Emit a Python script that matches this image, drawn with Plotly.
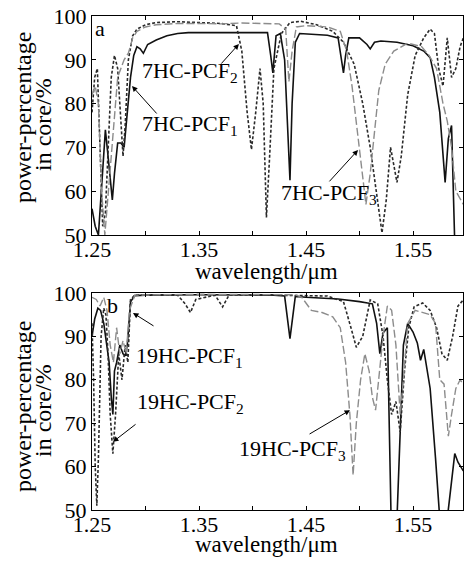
import plotly.graph_objects as go

# ---------------- data: panel a (7HC-PCF) ----------------
wl_a1 = [1.250, 1.253, 1.256, 1.258, 1.260, 1.2625, 1.265, 1.267, 1.269, 1.271, 1.274, 1.277, 1.280,
         1.283, 1.286, 1.289, 1.292, 1.295, 1.298, 1.302, 1.310, 1.320, 1.330, 1.340, 1.380, 1.414,
         1.417, 1.419, 1.422, 1.426, 1.430, 1.433, 1.435, 1.437, 1.440, 1.444, 1.455, 1.470, 1.480,
         1.483, 1.485, 1.487, 1.490, 1.500, 1.507, 1.510, 1.514, 1.520, 1.535, 1.550, 1.560, 1.566,
         1.570, 1.575, 1.580, 1.583, 1.586, 1.589, 1.597]
pp_a1 = [56, 52, 50, 58, 66, 74, 68, 62, 58, 64, 71, 71, 70,
         78, 86, 91, 93, 92.5, 91.5, 93.5, 94.5, 95.5, 96, 96.2, 96.2, 96.2,
         91, 87, 95.5, 96, 90, 75, 62.5, 80, 94, 96, 95.8, 95.6, 95,
         90, 87, 91, 95, 95, 93.5, 92.5, 94, 94.3, 94, 93.2, 92, 90.5,
         86, 78, 62, 72, 75, 48, 48]

wl_a2 = [1.250, 1.2525, 1.255, 1.2575, 1.260, 1.2625, 1.265, 1.268, 1.271, 1.274, 1.277, 1.279, 1.281,
         1.284, 1.288, 1.292, 1.296, 1.300, 1.310, 1.330, 1.350, 1.370, 1.385, 1.390, 1.395, 1.399,
         1.403, 1.407, 1.410, 1.413, 1.416, 1.420, 1.427, 1.435, 1.445, 1.460, 1.475, 1.485, 1.495,
         1.503, 1.510, 1.516, 1.521, 1.525, 1.529, 1.532, 1.535, 1.539, 1.545, 1.552, 1.560, 1.566,
         1.570, 1.574, 1.578, 1.582, 1.586, 1.590, 1.594, 1.597]
pp_a2 = [78, 86, 88, 72, 52, 55, 70, 86, 91, 88, 76, 68, 75,
         90, 95.5, 97, 97.5, 98, 98.5, 98.7, 98.5, 98.3, 97.8, 92, 78, 69.5,
         78, 88, 80, 54, 68, 88, 96, 98.5, 98.8, 98, 96.5, 94, 89,
         80, 70, 60, 50.5, 58, 70, 66, 62, 68, 82, 91, 95, 97,
         96, 88, 84, 95, 86, 88, 93, 95]

wl_a3 = [1.250, 1.253, 1.256, 1.259, 1.262, 1.266, 1.270, 1.274, 1.277, 1.280, 1.284, 1.288, 1.292,
         1.296, 1.300, 1.310, 1.330, 1.350, 1.370, 1.390, 1.410, 1.425, 1.431, 1.434, 1.437, 1.441,
         1.450, 1.470, 1.482, 1.488, 1.493, 1.497, 1.500, 1.503, 1.506, 1.510, 1.514, 1.518, 1.524,
         1.532, 1.545, 1.558, 1.565, 1.572, 1.578, 1.582, 1.586, 1.590, 1.597]
pp_a3 = [82, 84, 80, 60, 50, 62, 76, 86, 88, 90, 91.5, 95, 96.5,
         97, 97.5, 98, 98.3, 98.3, 98.2, 98.4, 98.3, 98.2, 97, 85, 92, 97.5,
         97.8, 97.5, 96.5, 92, 84, 76, 70, 63, 57, 64, 74, 83, 89,
         92, 93.8, 93, 91, 88, 80, 76, 70, 60, 57]

# ---------------- data: panel b (19HC-PCF) ----------------
wl_b1 = [1.250, 1.2525, 1.2555, 1.258, 1.261, 1.264, 1.266, 1.268, 1.2695, 1.271, 1.273, 1.276, 1.279,
         1.281, 1.283, 1.286, 1.290, 1.300, 1.350, 1.420, 1.430, 1.435, 1.440, 1.450, 1.480, 1.500,
         1.512, 1.516, 1.519, 1.522, 1.526, 1.5295, 1.535, 1.538, 1.541, 1.545, 1.550, 1.554, 1.557,
         1.560, 1.566, 1.571, 1.575, 1.582, 1.586, 1.589, 1.592, 1.597]
pp_b1 = [90, 94, 96.5, 96, 93, 87, 84, 76, 72, 82, 84, 88, 86,
         85.5, 88, 98, 99.4, 99.5, 99.6, 99.5, 99.3, 89.5, 99.2, 99, 98.6, 98,
         97.5, 93, 86, 90.8, 92, 48, 48, 68, 88, 93, 91, 88.5, 84.5,
         87, 78, 62, 48, 48, 57, 63, 61, 59]

wl_b2 = [1.250, 1.2515, 1.253, 1.2545, 1.256, 1.2585, 1.261, 1.263, 1.265, 1.267, 1.2695, 1.272, 1.275,
         1.278, 1.281, 1.2835, 1.286, 1.290, 1.330, 1.337, 1.342, 1.347, 1.365, 1.372, 1.378, 1.420,
         1.470, 1.485, 1.492, 1.497, 1.503, 1.510, 1.517, 1.522, 1.526, 1.530, 1.534, 1.538, 1.542,
         1.546, 1.551, 1.559, 1.566, 1.572, 1.577, 1.582, 1.587, 1.592, 1.597]
pp_b2 = [93, 80, 60, 51, 62, 90, 96.5, 95, 86, 72, 63, 72, 86,
         80, 88, 84, 98.5, 99.5, 99.5, 97.5, 95.5, 98.5, 99.5, 96.8, 99.5, 99.5,
         99.3, 98, 92, 87.5, 90, 98.4, 97.5, 90, 80, 72, 75, 68, 82,
         92, 96.8, 97.7, 96, 92, 86, 84.5, 90, 97, 98.4]

wl_b3 = [1.250, 1.254, 1.2575, 1.261, 1.264, 1.267, 1.270, 1.273, 1.276, 1.279, 1.282, 1.285, 1.290,
         1.350, 1.440, 1.446, 1.455, 1.465, 1.475, 1.482, 1.487, 1.491, 1.494, 1.497, 1.501, 1.505,
         1.509, 1.512, 1.515, 1.518, 1.522, 1.526, 1.530, 1.534, 1.538, 1.541, 1.545, 1.552, 1.560,
         1.566, 1.571, 1.575, 1.579, 1.583, 1.586, 1.590, 1.594, 1.597]
pp_b3 = [99, 98.5, 97, 99, 96, 88, 84, 92, 86, 89, 86, 96, 99.5,
         99.7, 99.6, 99, 96, 95.5, 94.5, 92, 84, 72, 58, 70, 80, 86,
         82, 76, 73, 80, 90, 97, 96, 88, 72, 80, 93, 96, 95.5,
         95, 93, 80, 79, 67, 72, 78, 80, 79]

x_tickvals = [1.25, 1.30, 1.35, 1.40, 1.45, 1.50, 1.55, 1.60]
x_ticktext = ["1.25", "", "1.35", "", "1.45", "", "1.55", ""]
y_tickvals = [50, 60, 70, 80, 90, 100]

FONT = "Liberation Serif, Times New Roman, serif"

fig = go.Figure()

styles = [
    dict(color="#111111", width=1.6, dash="solid"),
    dict(color="#2a2a2a", width=1.6, dash="3px,2px"),
    dict(color="#8c8c8c", width=1.4, dash="8px,3px"),
]

for (xs, ys, st) in [(wl_a1, pp_a1, styles[0]), (wl_a2, pp_a2, styles[1]), (wl_a3, pp_a3, styles[2])]:
    fig.add_trace(go.Scatter(x=xs, y=ys, mode="lines", line=st, xaxis="x", yaxis="y", showlegend=False))
for (xs, ys, st) in [(wl_b1, pp_b1, styles[0]), (wl_b2, pp_b2, styles[1]), (wl_b3, pp_b3, styles[2])]:
    fig.add_trace(go.Scatter(x=xs, y=ys, mode="lines", line=st, xaxis="x2", yaxis="y2", showlegend=False))

xax = dict(range=[1.25, 1.5967], tickvals=x_tickvals, ticktext=x_ticktext, ticks="inside", ticklen=4,
           tickcolor="black", showline=True, linecolor="black", linewidth=1, mirror="allticks",
           showgrid=False, zeroline=False, ticklabelstandoff=-5,
           tickfont=dict(family=FONT, size=22, color="black"))
yax = dict(range=[50, 100], tickvals=y_tickvals, ticks="inside", ticklen=4, tickcolor="black",
           showline=True, linecolor="black", linewidth=1, mirror="allticks", showgrid=False,
           zeroline=False, tickfont=dict(family=FONT, size=22, color="black"))

fig.update_layout(
    width=465, height=562,
    margin=dict(l=92, r=2, t=16, b=52),
    paper_bgcolor="white", plot_bgcolor="white",
    xaxis=dict(xax, domain=[0, 1], anchor="y"),
    yaxis=dict(yax, domain=[0.5567, 1.0], anchor="x"),
    xaxis2=dict(xax, domain=[0, 1], anchor="y2"),
    yaxis2=dict(yax, domain=[0.0, 0.4393], anchor="x2"),
    showlegend=False,
)

tfont = dict(family=FONT, size=22, color="black")
ann = []
# axis titles
for yy in [(510 - 271) / 494, (510 - 544) / 494]:
    ann.append(dict(text="wavelength/μm", xref="paper", yref="paper", x=(266 - 92) / 371, y=yy,
                    showarrow=False, font=dict(family=FONT, size=23, color="black"),
                    xanchor="center", yanchor="middle"))
for (y1, y2) in [((510 - 118) / 494, (510 - 125) / 494), ((510 - 407) / 494, (510 - 411) / 494)]:
    ann.append(dict(text="power-percentage", xref="paper", yref="paper", x=(23 - 92) / 371, y=y1,
                    textangle=-90, showarrow=False, font=dict(family=FONT, size=24, color="black"),
                    xanchor="center", yanchor="middle"))
    ann.append(dict(text="in core/%", xref="paper", yref="paper", x=(43 - 92) / 371, y=y2,
                    textangle=-90, showarrow=False, font=dict(family=FONT, size=24, color="black"),
                    xanchor="center", yanchor="middle"))
# panel letters
ann.append(dict(text="a", xref="paper", yref="paper", x=(100 - 92) / 371, y=(510 - 28) / 494,
                showarrow=False, font=tfont, xanchor="center", yanchor="middle"))
ann.append(dict(text="b", xref="paper", yref="paper", x=(112 - 92) / 371, y=(510 - 305) / 494,
                showarrow=False, font=tfont, xanchor="center", yanchor="middle"))

# curve labels (text) and arrows
labels_a = [("7HC-PCF<sub>2</sub>", 1.3416, 87.2), ("7HC-PCF<sub>1</sub>", 1.3416, 75.1),
            ("7HC-PCF<sub>3</sub>", 1.4715, 59.4)]
arrows_a = [((1.3696, 88.8), (1.3873, 93.6)), ((1.3117, 77.4), (1.2874, 84.0)),
            ((1.4706, 61.9), (1.4986, 69.4))]
labels_b = [("19HC-PCF<sub>1</sub>", 1.3407, 85.3), ("19HC-PCF<sub>2</sub>", 1.3425, 74.7),
            ("19HC-PCF<sub>3</sub>", 1.4378, 63.8)]
arrows_b = [((1.3089, 92.2), (1.2883, 95.4)), ((1.2921, 70.0), (1.2696, 65.7)),
            ((1.4519, 67.3), (1.4911, 73.0))]

for labels, arrows, xr, yr in [(labels_a, arrows_a, "x", "y"), (labels_b, arrows_b, "x2", "y2")]:
    for (t, lx, ly) in labels:
        ann.append(dict(text=t, xref=xr, yref=yr, x=lx, y=ly, showarrow=False, font=tfont,
                        xanchor="center", yanchor="middle"))
    for (tail, head) in arrows:
        ann.append(dict(text="", xref=xr, yref=yr, axref=xr, ayref=yr, x=head[0], y=head[1],
                        ax=tail[0], ay=tail[1], showarrow=True, arrowhead=2, arrowsize=1.1,
                        arrowwidth=1, arrowcolor="black", standoff=0))

fig.update_layout(annotations=ann)
fig.write_html("out.html", config={"displayModeBar": False},
               post_script="document.body.style.margin='0px';")
